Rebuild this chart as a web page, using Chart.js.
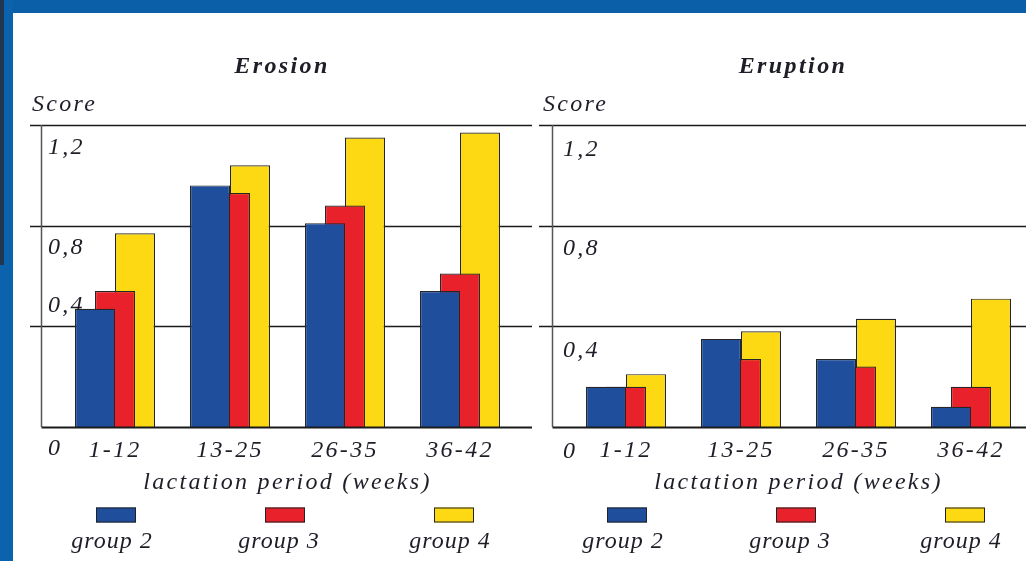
<!DOCTYPE html>
<html>
<head>
<meta charset="utf-8">
<script src="https://cdn.jsdelivr.net/npm/chart.js@4"></script>
<style>
  html, body { margin: 0; padding: 0; }
  body {
    width: 1026px; height: 561px; position: relative; overflow: hidden;
    background: #fff; color: #1e1e28;
    font-family: 'Liberation Serif', 'DejaVu Serif', serif;
  }
  .frame-top { position: absolute; left: 0; top: 0; width: 1026px; height: 13px; background: #0b5ea8; }
  .frame-left { position: absolute; left: 0; top: 0; width: 13px; height: 561px; background: #0b63ad; }
  .frame-dark { position: absolute; left: 0; top: 0; width: 4px; height: 265px; background: #213650; }
  .panel { position: absolute; top: 0; width: 540px; height: 561px; }
  .panel canvas { position: absolute; left: 0; top: 0; }
  .txt {
    position: absolute; white-space: nowrap;
    font-style: italic; font-size: 24px; letter-spacing: 2.3px;
    transform: translate(-50%, -50%);
  }
  .title { font-weight: bold; letter-spacing: 2.4px; }
  .score { transform: translate(0, -50%); }
  .legend-box { position: absolute; width: 38px; height: 13px; border: 1.5px solid #222; transform: translate(-50%, -50%); }
  .legend-label { letter-spacing: 1px; }
</style>
</head>
<body>
<div class="frame-top"></div>
<div class="frame-left"></div>
<div class="frame-dark"></div>

<div class="panel" id="erosionPanel" style="left:0px">
  <canvas id="erosion" width="540" height="561"></canvas>
</div>
<div class="panel" id="eruptionPanel" style="left:511px">
  <canvas id="eruption" width="540" height="561"></canvas>
</div>

<script>
// categories and groups
const periods = ['1-12', '13-25', '26-35', '36-42'];
const groupNames = ['group 2', 'group 3', 'group 4'];
const groupColors = ['#1f4e9c', '#e8212b', '#fdd913'];

// score axis
const scoreTicks = [0, 0.4, 0.8, 1.2];
const scoreTickLabels = ['0', '0,4', '0,8', '1,2'];

// Erosion scores
const erosionGroup2 = [0.47, 0.96, 0.81, 0.54];
const erosionGroup3 = [0.54, 0.93, 0.88, 0.61];
const erosionGroup4 = [0.77, 1.04, 1.15, 1.17];

// Eruption scores
const eruptionGroup2 = [0.16, 0.35, 0.27, 0.08];
const eruptionGroup3 = [0.16, 0.27, 0.24, 0.16];
const eruptionGroup4 = [0.21, 0.38, 0.43, 0.51];

const textFont = 'italic 24px "Liberation Serif", serif';

// draws the rules, the score axis and its labels (labels sit a bit off the rules, like the original)
const framePlugin = {
    id: 'frame',
    beforeDraw(chart) {
        chart.ctx.letterSpacing = '2.3px';
    },
    beforeDatasetsDraw(chart, args, opts) {
        const ctx = chart.ctx;
        const y = chart.scales.y;
        const top = y.getPixelForValue(scoreTicks[scoreTicks.length - 1]);
        const bottom = y.getPixelForValue(0);
        ctx.save();

        ctx.strokeStyle = '#1a1a1a';
        ctx.lineWidth = 1.5;
        scoreTicks.forEach((v) => {
            if (v === 0) return;
            const py = Math.round(y.getPixelForValue(v)) + 0.5;
            ctx.beginPath();
            ctx.moveTo(opts.ruleLeft, py);
            ctx.lineTo(opts.ruleRight, py);
            ctx.stroke();
        });

        // vertical axis
        ctx.strokeStyle = '#555';
        ctx.lineWidth = 1.5;
        ctx.beginPath();
        ctx.moveTo(opts.axisX, Math.round(top));
        ctx.lineTo(opts.axisX, Math.round(bottom));
        ctx.stroke();

        // tick labels
        ctx.font = textFont;
        ctx.fillStyle = '#1e1e28';
        ctx.textAlign = 'left';
        ctx.textBaseline = 'middle';
        scoreTicks.forEach((v, i) => {
            ctx.fillText(scoreTickLabels[i], opts.labelX, y.getPixelForValue(v) + opts.labelShift[i]);
        });
        ctx.restore();
    },
    afterDatasetsDraw(chart, args, opts) {
        // baseline goes over the bar bottoms
        const ctx = chart.ctx;
        const py = Math.round(chart.scales.y.getPixelForValue(0)) + 0.5;
        ctx.save();
        ctx.strokeStyle = '#1a1a1a';
        ctx.lineWidth = 2;
        ctx.beginPath();
        ctx.moveTo(opts.axisX, py);
        ctx.lineTo(opts.ruleRight, py);
        ctx.stroke();
        ctx.restore();
    },
};

function makeChart(canvasId, panelId, title, series, frameOpts) {
    const ctx = document.getElementById(canvasId).getContext('2d');
    const chart = new Chart(ctx, {
        type: 'bar',
        data: {
            labels: periods,
            datasets: series.map((values, i) => ({
                label: groupNames[i],
                data: values,
                backgroundColor: groupColors[i],
                borderColor: '#262626',
                borderWidth: 1.2,
                // bars twice as wide as their slot, so they overlap
                barPercentage: 2,
                categoryPercentage: 60 / 115,
            })),
        },
        options: {
            responsive: false,
            animation: false,
            layout: { padding: { left: 57.5, right: 22.5, top: 125, bottom: 94 } },
            scales: {
                x: {
                    grid: { display: false, drawTicks: false },
                    border: { display: false },
                    ticks: {
                        color: '#1e1e28',
                        padding: 9,
                        maxRotation: 0,
                        font: { family: 'Liberation Serif', style: 'italic', size: 24 },
                    },
                    afterFit(scale) {
                        scale.height = 40;
                    },
                },
                y: {
                    display: false,
                    min: 0,
                    max: 1.2,
                },
            },
            plugins: {
                legend: { display: false },
                tooltip: { enabled: false },
                frame: frameOpts,
            },
        },
        plugins: [framePlugin],
    });

    // texts around the plot
    const panel = document.getElementById(panelId);
    const addText = (cls, text, x, y) => {
        const d = document.createElement('div');
        d.className = 'txt ' + cls;
        d.textContent = text;
        d.style.left = x + 'px';
        d.style.top = y + 'px';
        panel.appendChild(d);
    };
    addText('title', title, 282, 65);
    addText('score', 'Score', 32, 103);
    addText('', 'lactation period (weeks)', 287.5, 481);

    // legend: box above the name
    const boxX = [116, 285, 454];
    const labelX = [112, 279, 450];
    groupNames.forEach((name, i) => {
        const box = document.createElement('div');
        box.className = 'legend-box';
        box.style.left = boxX[i] + 'px';
        box.style.top = '515px';
        box.style.background = groupColors[i];
        panel.appendChild(box);
        addText('legend-label', name, labelX[i], 540);
    });
    return chart;
}

makeChart('erosion', 'erosionPanel', 'Erosion',
    [erosionGroup2, erosionGroup3, erosionGroup4],
    { ruleLeft: 30, ruleRight: 532, axisX: 41.5, labelX: 48, labelShift: [22, -21, 22, 23] });

makeChart('eruption', 'eruptionPanel', 'Eruption',
    [eruptionGroup2, eruptionGroup3, eruptionGroup4],
    { ruleLeft: 28, ruleRight: 540, axisX: 41.5, labelX: 52, labelShift: [25, 24, 23, 25] });
</script>
</body>
</html>
